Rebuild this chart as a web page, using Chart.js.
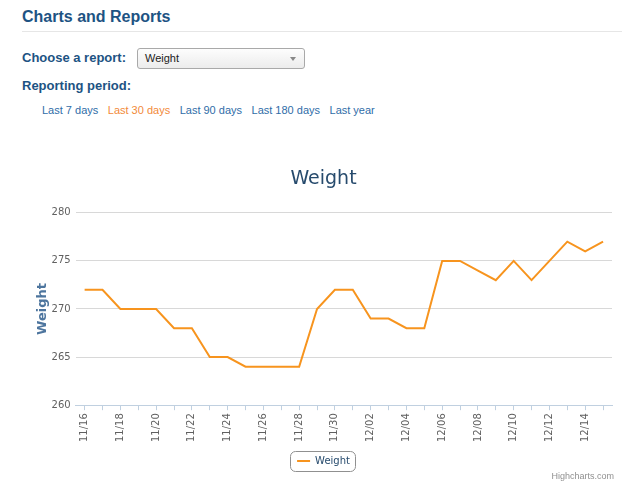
<!DOCTYPE html>
<html>
<head>
<meta charset="utf-8">
<script src="https://cdn.jsdelivr.net/npm/chart.js@4"></script>
<style>
  body { margin: 0; width: 640px; height: 494px; background: #fff; position: relative; overflow: hidden; font-family: "Liberation Sans", Arial, sans-serif; }
  .hd { position: absolute; left: 22px; color: #1d5383; font-weight: bold; }
  #title { top: 8px; font-size: 16px; }
  #rule { position: absolute; left: 22px; top: 31px; width: 600px; height: 1px; background: #e6e6e6; }
  #choose { top: 50px; font-size: 13px; }
  #period { top: 78px; font-size: 13px; }
  #sel { position: absolute; left: 137px; top: 48px; width: 166px; height: 19px; border: 1px solid #a9a9a9; border-radius: 3px;
         background: linear-gradient(#fdfdfd, #ececec); font-size: 11px; color: #222; line-height: 19px; box-sizing: content-box; }
  #sel span { position: absolute; left: 7px; }
  #sel i { position: absolute; right: 8px; top: 8px; width: 0; height: 0; border-left: 3px solid transparent; border-right: 3px solid transparent; border-top: 4px solid #888; }
  #links { position: absolute; left: 42px; top: 104px; font-size: 11px; color: #2f6da8; }
  #links span { margin-right: 9.5px; }
  #links .on { color: #f28a3a; }
  #wrap { position: absolute; left: 0; top: 140px; width: 640px; height: 354px; }
  #credit { position: absolute; right: 26px; top: 471px; font-size: 9px; color: #909090; }
</style>
</head>
<body>
<div class="hd" id="title">Charts and Reports</div>
<div id="rule"></div>
<div class="hd" id="choose">Choose a report:</div>
<div id="sel"><span>Weight</span><i></i></div>
<div class="hd" id="period">Reporting period:</div>
<div id="links"><span>Last 7 days</span><span class="on">Last 30 days</span><span>Last 90 days</span><span>Last 180 days</span><span>Last year</span></div>
<div id="wrap"><canvas id="myChart"></canvas></div>
<div id="credit">Highcharts.com</div>
<script>
const days = ['11/16','11/17','11/18','11/19','11/20','11/21','11/22','11/23','11/24','11/25',
              '11/26','11/27','11/28','11/29','11/30','12/01','12/02','12/03','12/04','12/05',
              '12/06','12/07','12/08','12/09','12/10','12/11','12/12','12/13','12/14','12/15'];
const weight = [272, 272, 270, 270, 270, 268, 268, 265, 265, 264,
                264, 264, 264, 270, 272, 272, 269, 269, 268, 268,
                275, 275, 274, 273, 275, 273, 275, 277, 276, 277];
const yTicks = [260, 265, 270, 275, 280];

// rounded box round the legend, like the highcharts one
const legendBox = {
    id: 'legendBox',
    afterDraw(chart) {
        const boxes = chart.legend.legendHitBoxes;
        if (!boxes || !boxes.length) return;
        const b = boxes[0];
        const c = chart.ctx;
        c.save();
        c.strokeStyle = '#909090';
        c.lineWidth = 1;
        c.beginPath();
        c.roundRect(Math.round(b.left - 7) + 0.5, Math.round(b.top - 5) + 0.5, Math.round(b.width + 12), Math.round(b.height + 10), 5);
        c.stroke();
        c.restore();
    }
};

const data = {
    labels: days,
    datasets: [{
        label: 'Weight',
        data: weight,
        borderColor: '#f7941e',
        backgroundColor: '#f7941e',
        borderWidth: 2,
        pointRadius: 0,
        tension: 0,
        fill: false
    }]
};

const config = {
    type: 'line',
    data: data,
    plugins: [legendBox],
    options: {
        responsive: true,
        maintainAspectRatio: false,
        animation: false,
        layout: { padding: { left: 35, right: 28, top: 24, bottom: 18 } },
        plugins: {
            title: {
                display: true,
                text: 'Weight',
                color: '#274b6d',
                font: { family: 'DejaVu Sans', size: 19, weight: 'normal' },
                padding: { top: 4, bottom: 22 }
            },
            legend: {
                position: 'bottom',
                labels: {
                    color: '#274b6d',
                    font: { family: 'DejaVu Sans', size: 10 },
                    usePointStyle: true,
                    pointStyle: 'line',
                    pointStyleWidth: 13,
                    padding: 11
                }
            },
            tooltip: { enabled: false }
        },
        scales: {
            x: {
                offset: true,
                grid: { display: true, offset: false, drawOnChartArea: false, drawTicks: true, tickLength: 5, color: '#c0d0e0' },
                border: { color: '#c0d0e0' },
                ticks: {
                    autoSkip: false,
                    minRotation: 90,
                    maxRotation: 90,
                    color: '#606060',
                    font: { family: 'DejaVu Sans', size: 10 },
                    padding: 3,
                    callback: function(v, i) { return i % 2 === 0 ? days[i] : ''; }
                }
            },
            y: {
                min: yTicks[0],
                max: yTicks[yTicks.length - 1],
                afterBuildTicks: function(s) { s.ticks = yTicks.map(v => ({ value: v })); },
                grid: { color: '#d8d8d8', drawTicks: false },
                border: { display: false },
                ticks: {
                    color: '#606060',
                    font: { family: 'DejaVu Sans', size: 10 },
                    padding: 5
                },
                title: {
                    display: true,
                    text: 'Weight',
                    color: '#4d759e',
                    font: { family: 'DejaVu Sans', size: 13, weight: 'bold' },
                    padding: { top: 0, bottom: -4 }
                }
            }
        }
    }
};

Chart.defaults.font.family = 'DejaVu Sans';

const ctx = document.getElementById('myChart');
chart = new Chart(ctx, config);
</script>
</body>
</html>
